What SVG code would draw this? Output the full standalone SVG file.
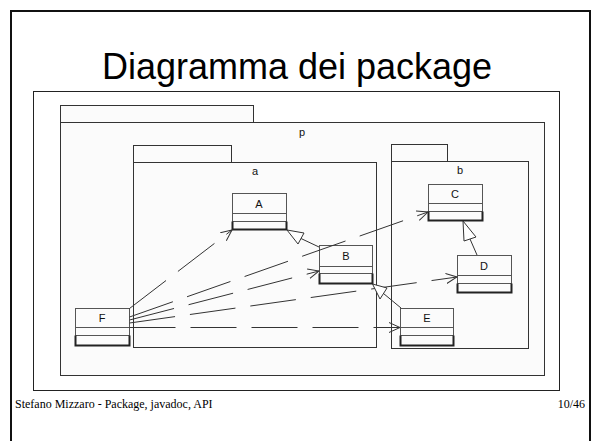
<svg xmlns="http://www.w3.org/2000/svg" width="594" height="441" viewBox="0 0 594 441">
<defs>
<style>
.pkg{fill:#fbfbfb;stroke:#333;stroke-width:1}
.cls{fill:#fbfbfb;stroke:#555;stroke-width:1}
.bot{stroke:#222;stroke-width:2;fill:none}
.div{stroke:#555;stroke-width:1}
.lbl{font-family:"Liberation Sans",Arial,sans-serif;font-size:11px;fill:#111;text-anchor:middle}
.dep{stroke:#333;stroke-width:1;fill:none;stroke-dasharray:46 15}
.gen{stroke:#333;stroke-width:1;fill:none}
.tri{fill:#fff;stroke:#333;stroke-width:1}
</style>
<marker id="open" viewBox="0 0 12 12" refX="11" refY="6" markerWidth="12" markerHeight="12" markerUnits="userSpaceOnUse" orient="auto">
<path d="M0,1 L11,6 L0,11" fill="none" stroke="#333" stroke-width="1"/>
</marker>
</defs>
<rect x="0" y="0" width="594" height="441" fill="#fff"/>
<rect x="11" y="11" width="579" height="440" fill="none" stroke="#111" stroke-width="2"/>
<text x="297" y="79" font-family="'Liberation Sans',Arial,sans-serif" font-size="36" text-anchor="middle" fill="#000">Diagramma dei package</text>
<rect x="33.5" y="91.5" width="526" height="299" fill="#fff" stroke="#222" stroke-width="1"/>
<g id="p">
<rect class="pkg" x="60.5" y="105.5" width="193" height="17"/>
<rect class="pkg" x="60.5" y="122.5" width="484" height="253"/>
<text class="lbl" x="302" y="136">p</text>
</g>
<g id="a">
<rect class="pkg" x="133.5" y="145.5" width="98" height="17"/>
<rect class="pkg" x="133.5" y="162.5" width="243" height="185"/>
<text class="lbl" x="255" y="175">a</text>
</g>
<g id="b">
<rect class="pkg" x="391.5" y="144.5" width="56" height="17"/>
<rect class="pkg" x="391.5" y="161.5" width="137" height="187"/>
<text class="lbl" x="460" y="174">b</text>
</g>
<g id="A">
<rect class="cls" x="232.5" y="193.5" width="54" height="36"/>
<line class="div" x1="232.5" y1="213.5" x2="286.5" y2="213.5"/>
<line class="div" x1="232.5" y1="221.5" x2="286.5" y2="221.5"/>
<path class="bot" d="M232.5,221.5 V229.5 H286.5 V221.5"/>
<text class="lbl" x="259" y="208">A</text>
</g>
<g id="C">
<rect class="cls" x="428.5" y="184.5" width="54" height="36"/>
<line class="div" x1="428.5" y1="203.5" x2="482.5" y2="203.5"/>
<line class="div" x1="428.5" y1="211.5" x2="482.5" y2="211.5"/>
<path class="bot" d="M428.5,211.5 V220.5 H482.5 V211.5"/>
<text class="lbl" x="455" y="198">C</text>
</g>
<g id="B">
<rect class="cls" x="319.5" y="245.5" width="53" height="38"/>
<line class="div" x1="319.5" y1="266.5" x2="372.5" y2="266.5"/>
<line class="div" x1="319.5" y1="273.5" x2="372.5" y2="273.5"/>
<path class="bot" d="M319.5,273.5 V283.5 H372.5 V273.5"/>
<text class="lbl" x="346" y="260">B</text>
</g>
<g id="D">
<rect class="cls" x="457.5" y="255.5" width="54" height="37"/>
<line class="div" x1="457.5" y1="275.5" x2="511.5" y2="275.5"/>
<line class="div" x1="457.5" y1="283.5" x2="511.5" y2="283.5"/>
<path class="bot" d="M457.5,283.5 V292.5 H511.5 V283.5"/>
<text class="lbl" x="484" y="270">D</text>
</g>
<g id="E">
<rect class="cls" x="400.5" y="308.5" width="53" height="37"/>
<line class="div" x1="400.5" y1="327.5" x2="453.5" y2="327.5"/>
<line class="div" x1="400.5" y1="335.5" x2="453.5" y2="335.5"/>
<path class="bot" d="M400.5,335.5 V345.5 H453.5 V335.5"/>
<text class="lbl" x="427" y="322">E</text>
</g>
<g id="F">
<rect class="cls" x="75.5" y="308.5" width="54" height="37"/>
<line class="div" x1="75.5" y1="327.5" x2="129.5" y2="327.5"/>
<line class="div" x1="75.5" y1="335.5" x2="129.5" y2="335.5"/>
<path class="bot" d="M75.5,335.5 V345.5 H129.5 V335.5"/>
<text class="lbl" x="102" y="322">F</text>
</g>
<g id="connectors">
<line class="dep" x1="129.5" y1="308.5" x2="232" y2="230" marker-end="url(#open)"/>
<line class="dep" x1="129.5" y1="317" x2="428" y2="212" marker-end="url(#open)"/>
<line class="dep" x1="129.5" y1="320" x2="319" y2="271" marker-end="url(#open)"/>
<line class="dep" x1="129.5" y1="323" x2="457" y2="277" marker-end="url(#open)"/>
<line class="dep" x1="129.5" y1="327.5" x2="400" y2="327.5" marker-end="url(#open)"/>
<line class="gen" x1="319" y1="247" x2="301" y2="238.5"/>
<polygon class="tri" points="287,230 304,233 298,244"/>
<line class="gen" x1="401" y1="308" x2="383.5" y2="293.5"/>
<polygon class="tri" points="372.5,284 387,288 380,299"/>
<line class="gen" x1="477" y1="255" x2="470" y2="239"/>
<polygon class="tri" points="463,221 476,237 464,241"/>
</g>
<text x="15" y="408" font-family="'Liberation Serif','Times New Roman',serif" font-size="12" fill="#000">Stefano Mizzaro - Package, javadoc, API</text>
<text x="585" y="408" font-family="'Liberation Serif','Times New Roman',serif" font-size="12" fill="#000" text-anchor="end">10/46</text>
</svg>
